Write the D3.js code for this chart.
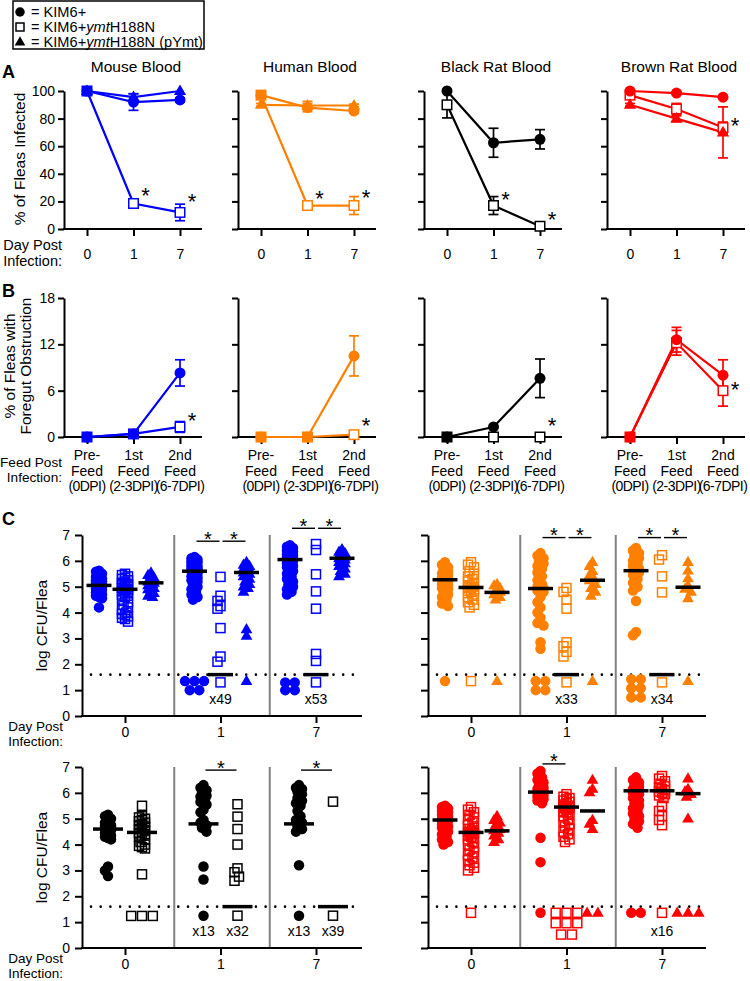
<!DOCTYPE html>
<html><head><meta charset="utf-8">
<script src="https://cdn.jsdelivr.net/npm/d3@7"></script>
<style>
body{margin:0;background:#fff}
svg{display:block}
text{font-family:"Liberation Sans",Arial,Helvetica,sans-serif;fill:#000}
</style>
</head><body>
<svg id="chart" width="750" height="981"></svg>
<script>
// ---------------- DATA ----------------
const bloods = ["Mouse Blood","Human Blood","Black Rat Blood","Brown Rat Blood"];
const bloodColors = ["#0000ff","#ff8000","#000000","#ff0000"];
const strains = ["KIM6+","KIM6+ymtH188N","KIM6+ymtH188N (pYmt)"];
const markerShapes = ["circle","square","triangle"];
const days = ["0","1","7"];
const feeds = [["Pre-","Feed","(0DPI)"],["1st","Feed","(2-3DPI)"],["2nd","Feed","(6-7DPI)"]];
const ticksA = [0,20,40,60,80,100];
const ticksB = [0,6,12,18];
const ticksC = [0,1,2,3,4,5,6,7];
const detectionLimit = 1.6;

// Panel A: % of fleas infected  [strain][day], errors = SEM
const infectedMouse = [[100,92,93.5],[100,18.5,12],[100,95.5,100]];
const infectedMouseErr = [[0,6,1.5],[0,2,6],[0,2.5,0]];
const infectedHuman = [[97,88,85.5],[97,17,17],[90,89.5,89.5]];
const infectedHumanErr = [[1,3,1.5],[2,1,6.5],[1,3,1]];
const infectedBlackRat = [[100,62.5,65],[90,17,2],null];
const infectedBlackRatErr = [[0,10.5,7],[9.5,6.5,0],null];
const infectedBrownRat = [[100,98.5,95.5],[97,87,73.5],[90,80,70]];
const infectedBrownRatErr = [[0,1,0.5],[2,4,4],[1,2,18.5]];
const starsA = [[[1,28],[2,23.5]],[[1,26],[2,26.5]],[[1,25],[2,11]],[[2,79]]];

// Panel B: % of fleas with foregut obstruction [strain][feed]
const obstructMouse = [[0,0.4,8.3],[0,0.4,1.3]];
const obstructMouseErr = [[0,0.2,1.7],[0,0.3,0.7]];
const obstructHuman = [[0,0,10.5],[0,0,0.3]];
const obstructHumanErr = [[0,0,2.6],[0,0,0.2]];
const obstructBlackRat = [[0,1.3,7.6],[0,0,0]];
const obstructBlackRatErr = [[0,0,2.5],[0,0,0]];
const obstructBrownRat = [[0,12.6,8.0],[0,12.2,6.0]];
const obstructBrownRatErr = [[0,1.6,2.0],[0,1.6,2.0]];
const starsB = [[[2,2.8]],[[2,2.2]],[[2,2.2]],[[2,6.85]]];

// Panel C: log CFU/flea  [day][strain] -> values
const cfuMouse = [
 [[5.62,5.58,5.5,5.45,5.4,5.38,5.33,5.3,5.25,5.22,5.2,5.15,5.12,5.1,5.08,5.05,5.05,5.03,5.0,4.98,4.95,4.92,4.9,4.88,4.85,4.8,4.78,4.75,4.7,4.65,4.6,4.55,4.2],
  [5.5,5.45,5.4,5.35,5.3,5.25,5.2,5.15,5.1,5.08,5.05,5.0,4.98,4.95,4.92,4.9,4.88,4.85,4.82,4.8,4.75,4.7,4.65,4.6,4.5,4.4,4.3,4.2,4.1,4.0,3.95,3.9,3.85,3.8,3.75,3.65],
  [5.55,5.45,5.35,5.3,5.25,5.2,5.18,5.15,5.12,5.1,5.05,5.0,4.95,4.9,4.85,4.75,4.65,4.6]],
 [[6.15,6.1,6.05,6.0,5.98,5.95,5.92,5.9,5.88,5.85,5.8,5.78,5.75,5.7,5.68,5.65,5.62,5.6,5.58,5.55,5.5,5.45,5.4,5.35,5.3,5.25,5.2,5.1,5.0,4.9,4.8,4.7,4.6,4.5,1.35,1.35,1.35,1.0,1.0],
  [5.38,4.65,4.45,4.25,4.15,3.4,2.3,2.1,1.3],
  [5.95,5.85,5.8,5.75,5.7,5.65,5.6,5.55,5.5,5.45,5.4,5.3,5.2,5.1,5.0,4.95,4.8,3.35,3.1,1.35]],
 [[6.6,6.55,6.5,6.45,6.4,6.35,6.3,6.25,6.2,6.18,6.15,6.12,6.1,6.08,6.05,6.03,6.0,5.98,5.95,5.9,5.85,5.8,5.75,5.7,5.6,5.5,5.4,5.3,5.2,5.1,5.0,4.9,4.8,4.7,1.3,1.3,1.0,1.0],
  [6.65,6.42,5.48,4.82,4.15,2.4,2.13,1.3],
  [6.45,6.35,6.3,6.25,6.2,6.15,6.12,6.1,6.05,6.0,5.95,5.9,5.85,5.8,5.7,5.6,5.5,5.4]]
];
const cfuMouseMedian = [[5.05,4.9,5.15],[5.6,1.6,5.55],[6.05,1.6,6.1]];
const cfuMouseAtLimit = [[0,0,0],[0,49,0],[0,53,0]];

const cfuHuman = [
 [[5.95,5.85,5.75,5.65,5.6,5.55,5.5,5.45,5.4,5.35,5.32,5.3,5.28,5.25,5.22,5.2,5.15,5.1,5.05,5.0,4.95,4.9,4.8,4.7,4.6,4.5,4.35,4.25,1.35],
  [5.95,5.85,5.75,5.6,5.5,5.4,5.3,5.2,5.1,5.05,5.0,4.98,4.95,4.9,4.85,4.8,4.7,4.6,4.5,4.4,4.3,4.2,1.35],
  [5.1,5.05,4.95,4.85,4.8,4.78,4.7,4.6,4.5,1.35]],
 [[6.3,6.2,6.1,6.0,5.9,5.8,5.7,5.55,5.4,5.25,5.1,5.0,4.95,4.9,4.85,4.8,4.6,4.4,4.2,4.0,3.8,3.6,3.5,2.85,2.6,1.35,1.35,1.0,1.0],
  [4.95,4.8,4.5,4.15,2.85,2.7,2.48,2.3,1.3],
  [5.95,5.8,5.6,5.45,5.3,5.25,5.1,4.95,4.8,4.65,1.35]],
 [[6.5,6.4,6.3,6.2,6.1,6.0,5.9,5.8,5.7,5.62,5.55,5.45,5.3,5.15,5.0,4.85,4.45,3.25,3.12,1.42,1.42,1.07,1.07,0.72,0.72],
  [6.22,6.05,5.4,4.78,1.3],
  [5.95,5.62,5.32,5.05,4.92,4.8,4.55,1.35]]
];
const cfuHumanMedian = [[5.27,4.97,4.78],[4.93,1.6,5.25],[5.62,1.6,4.98]];
const cfuHumanAtLimit = [[0,0,0],[0,33,0],[0,34,0]];

const cfuBlackRat = [
 [[5.15,5.1,5.0,4.95,4.9,4.85,4.8,4.75,4.72,4.7,4.68,4.65,4.62,4.6,4.58,4.55,4.52,4.5,4.45,4.4,4.35,4.3,4.25,4.2,3.15,3.0,2.78],
  [5.5,5.1,5.05,5.0,4.95,4.9,4.85,4.8,4.75,4.7,4.65,4.6,4.55,4.5,4.45,4.4,4.35,4.3,4.2,4.1,4.0,3.95,3.9,3.85,2.85,1.24,1.24,1.24],
  null],
 [[6.3,6.2,6.1,6.0,5.9,5.85,5.75,5.65,5.55,5.35,5.25,4.95,4.85,4.75,4.65,4.5,3.15,2.65,1.25],
  [5.56,5.08,4.6,4.0,3.08,2.93,2.76,2.6,1.25],
  null],
 [[6.3,6.2,6.15,6.05,5.95,5.8,5.7,5.6,5.5,5.3,5.1,4.95,4.85,4.7,4.6,4.5,3.2,1.25],
  [5.66,1.25],
  null]
];
const cfuBlackRatMedian = [[4.6,4.47,null],[4.8,1.6,null],[4.8,1.6,null]];
const cfuBlackRatAtLimit = [[0,0,0],[13,32,0],[13,39,0]];

const cfuBrownRat = [
 [[5.5,5.45,5.4,5.35,5.3,5.25,5.2,5.15,5.1,5.05,5.0,4.98,4.95,4.92,4.9,4.88,4.85,4.8,4.75,4.7,4.65,4.6,4.5,4.4,4.3,4.2,4.1,4.0],
  [5.45,5.35,5.25,5.15,5.05,4.95,4.85,4.75,4.65,4.6,4.55,4.5,4.48,4.45,4.42,4.4,4.35,4.3,4.25,4.2,4.1,4.0,3.9,3.8,3.7,3.6,3.5,3.4,3.3,3.2,3.1,3.0,1.36],
  [5.1,4.95,4.85,4.75,4.6,4.55,4.45,4.35,4.2,4.1]],
 [[6.85,6.75,6.6,6.5,6.4,6.3,6.2,6.15,6.1,6.05,6.0,5.95,5.9,5.85,5.8,5.75,5.7,5.6,4.26,3.32,1.36],
  [5.95,5.85,5.8,5.75,5.7,5.65,5.6,5.55,5.5,5.47,5.45,5.42,5.4,5.35,5.3,5.25,5.2,5.1,5.0,4.9,4.8,4.7,4.6,4.5,4.4,4.3,4.2,4.1,1.36,1.36,1.36,0.96,0.96,0.96,0.52,0.52],
  [6.5,6.15,6.02,4.95,4.8,4.6,1.36,1.36]],
 [[6.6,6.5,6.4,6.3,6.25,6.2,6.15,6.1,6.05,6.0,5.95,5.9,5.8,5.7,5.6,5.5,5.4,5.3,5.2,5.1,5.0,4.9,4.8,4.65,1.36,1.36],
  [6.65,6.55,6.45,6.35,6.25,6.2,6.15,6.1,6.05,6.0,5.95,5.9,5.8,5.5,5.3,5.1,4.95,4.75,1.36],
  [6.55,6.15,6.05,5.95,5.85,5.0,1.36,1.36,1.36]]
];
const cfuBrownRatMedian = [[4.95,4.47,4.53],[6.03,5.45,5.3],[6.08,6.08,5.97]];
const cfuBrownRatAtLimit = [[0,0,0],[0,0,0],[0,16,0]];

// significance brackets: [day index, from strain, to strain, level (log CFU)]
const sigMouse = [[1,0,1,6.76],[1,1,2,6.76],[2,0,1,7.26],[2,1,2,7.26]];
const sigHuman = [[1,0,1,6.9],[1,1,2,6.9],[2,0,1,6.9],[2,1,2,6.9]];
const sigBlackRat = [[1,0,1,6.88],[2,0,1,6.88]];
const sigBrownRat = [[1,0,1,7.12]];

// ---------------- DRAWING ----------------
const svg = d3.select("#chart");
const AX = 2;
const panelX = [64, 238, 424, 607];

function drawMarker(g, shape, x, y, size, color, openFill) {
  if (shape === "circle") {
    g.append("circle").attr("cx", x).attr("cy", y).attr("r", size / 2).attr("fill", color);
  } else if (shape === "square") {
    const s = size - 1.5;
    g.append("rect").attr("x", x - s / 2).attr("y", y - s / 2).attr("width", s).attr("height", s)
      .attr("fill", openFill).attr("stroke", color).attr("stroke-width", 1.5);
  } else {
    const side = size * 1.12;
    const area = side * side * Math.sqrt(3) / 4;
    g.append("path").attr("d", d3.symbol().type(d3.symbolTriangle).size(area)())
      .attr("transform", `translate(${x},${y + 0.5})`).attr("fill", color);
  }
}
function star(g, x, yc, fs) {
  fs = fs || 22;
  g.append("text").attr("x", x).attr("y", yc + 0.58 * fs).attr("text-anchor", "middle")
    .attr("font-size", fs).text("*");
}
function styleAxis(g, fs) {
  g.attr("font-size", fs).attr("font-family", '"Liberation Sans",Arial,sans-serif');
  g.selectAll("line").attr("stroke-width", AX);
  g.selectAll("path.domain").attr("stroke-width", AX);
}

// Legend
const leg = svg.append("g");
leg.append("rect").attr("x", 13).attr("y", 1).attr("width", 191).attr("height", 48)
  .attr("fill", "none").attr("stroke", "#000").attr("stroke-width", 1.5);
const legY = [12, 27, 42];
strains.forEach((s, i) => {
  drawMarker(leg, markerShapes[i], 20, legY[i], 9.5, "#000", "#fff");
  const t = leg.append("text").attr("x", 31).attr("y", legY[i] + 5.3).attr("font-size", 14.6);
  t.append("tspan").text("= ");
  const m = s.match(/^(KIM6\+)(ymt)?(.*)$/);
  t.append("tspan").text(m[1]);
  if (m[2]) t.append("tspan").attr("font-style", "italic").text(m[2]);
  if (m[3]) t.append("tspan").text(m[3]);
});

[["A", 78], ["B", 297], ["C", 525]].forEach(([l, y]) => {
  svg.append("text").attr("x", 2).attr("y", y).attr("font-size", 18).attr("font-weight", "bold").text(l);
});

// ---------- Panel A ----------
const infectedAll = [infectedMouse, infectedHuman, infectedBlackRat, infectedBrownRat];
const infectedErrAll = [infectedMouseErr, infectedHumanErr, infectedBlackRatErr, infectedBrownRatErr];
const yA = d3.scaleLinear().domain([0, 100]).range([229, 91]);
const drawOrder = [1, 2, 0];

function linePanel(gi, yScale, ticks, vals, errs, stars, showY, xLabels) {
  const x0 = panelX[gi], col = bloodColors[gi];
  const g = svg.append("g");
  const x = d3.scalePoint().domain(days).range([x0 + 23, x0 + 116]);
  const ya = g.append("g").attr("transform", `translate(${x0},0)`)
    .call(d3.axisLeft(yScale).tickValues(ticks).tickSize(6).tickSizeOuter(0).tickPadding(3)
      .tickFormat(showY ? d3.format("d") : () => ""));
  styleAxis(ya, 14);
  const [yb] = yScale.range();
  g.append("line").attr("x1", x0 - 1).attr("x2", x0 + 138).attr("y1", yb).attr("y2", yb)
    .attr("stroke", "#000").attr("stroke-width", AX);
  const xa = g.append("g").attr("transform", `translate(0,${yb})`)
    .call(d3.axisBottom(x).tickSize(7).tickSizeOuter(0).tickPadding(13)
      .tickFormat(xLabels ? (d => d) : () => ""));
  xa.select("path.domain").remove();
  styleAxis(xa, 14);
  const lineGen = d3.line().x((d, i) => x(days[i])).y(d => yScale(d));
  drawOrder.forEach(si => {
    const v = vals[si]; if (!v) return;
    g.append("path").attr("d", lineGen(v)).attr("fill", "none").attr("stroke", col).attr("stroke-width", 2.2);
  });
  drawOrder.forEach(si => {
    const v = vals[si]; if (!v) return;
    const e = errs[si];
    v.forEach((d, i) => {
      if (!e[i]) return;
      const cx = x(days[i]);
      const lo = yScale(Math.max(0, d - e[i])), hi = yScale(d + e[i]);
      g.append("line").attr("x1", cx).attr("x2", cx).attr("y1", lo).attr("y2", hi).attr("stroke", col).attr("stroke-width", 1.7);
      [lo, hi].forEach(yy => g.append("line").attr("x1", cx - 5).attr("x2", cx + 5).attr("y1", yy).attr("y2", yy).attr("stroke", col).attr("stroke-width", 1.7));
    });
  });
  drawOrder.forEach(si => {
    const v = vals[si]; if (!v) return;
    v.forEach((d, i) => drawMarker(g, markerShapes[si], x(days[i]), yScale(d), 11, col, "#fff"));
  });
  stars.forEach(([di, v]) => star(g, x(days[di]) + 12, yScale(v)));
  return {g, x};
}

infectedAll.forEach((vals, gi) => {
  const {g} = linePanel(gi, yA, ticksA, vals, infectedErrAll[gi], starsA[gi], gi === 0, true);
  g.append("text").attr("x", panelX[gi] + 72).attr("y", 72).attr("text-anchor", "middle")
    .attr("font-size", 15.5).text(bloods[gi]);
});
svg.append("text").attr("transform", "translate(25,159) rotate(-90)").attr("text-anchor", "middle")
  .attr("font-size", 15.5).text("% of Fleas Infected");
[["Day Post", 250], ["Infection:", 266]].forEach(([t, y]) =>
  svg.append("text").attr("x", 62).attr("y", y).attr("text-anchor", "end").attr("font-size", 14.5).text(t));

// ---------- Panel B ----------
const obstructAll = [obstructMouse, obstructHuman, obstructBlackRat, obstructBrownRat];
const obstructErrAll = [obstructMouseErr, obstructHumanErr, obstructBlackRatErr, obstructBrownRatErr];
const yB = d3.scaleLinear().domain([0, 18]).range([437, 298]);
obstructAll.forEach((vals, gi) => {
  const {g, x} = linePanel(gi, yB, ticksB, vals, obstructErrAll[gi], starsB[gi], gi === 0, false);
  days.forEach((d, i) => {
    feeds[i].forEach((ln, k) => {
      g.append("text").attr("x", x(d)).attr("y", 460 + k * 15.5).attr("text-anchor", "middle")
        .attr("font-size", 14).attr("letter-spacing", k === 2 ? -0.55 : 0).text(ln);
    });
  });
});
svg.append("text").attr("transform", "translate(15,366) rotate(-90)").attr("text-anchor", "middle")
  .attr("font-size", 15.5).text("% of Fleas with");
svg.append("text").attr("transform", "translate(31,366) rotate(-90)").attr("text-anchor", "middle")
  .attr("font-size", 15.5).text("Foregut Obstruction");
[["Feed Post", 467], ["Infection:", 482]].forEach(([t, y]) =>
  svg.append("text").attr("x", 62).attr("y", y).attr("text-anchor", "end").attr("font-size", 13.6).text(t));

// ---------- Panel C ----------
const cPanels = [
  {data: cfuMouse, med: cfuMouseMedian, lim: cfuMouseAtLimit, sig: sigMouse, ci: 0, x0: 82, x1: 362, ytop: 535, ybot: 716, showY: true},
  {data: cfuHuman, med: cfuHumanMedian, lim: cfuHumanAtLimit, sig: sigHuman, ci: 1, x0: 428, x1: 706, ytop: 535, ybot: 716, showY: false},
  {data: cfuBlackRat, med: cfuBlackRatMedian, lim: cfuBlackRatAtLimit, sig: sigBlackRat, ci: 2, x0: 82, x1: 362, ytop: 767, ybot: 948, showY: true},
  {data: cfuBrownRat, med: cfuBrownRatMedian, lim: cfuBrownRatAtLimit, sig: sigBrownRat, ci: 3, x0: 428, x1: 706, ytop: 767, ybot: 948, showY: false}
];

function swarm(vals, y, shape) {
  const pts = vals.map(v => ({v, y: y(v), dx: 0}));
  const above = pts.filter(p => p.v >= detectionLimit).sort((a, b) => a.y - b.y);
  const below = pts.filter(p => p.v < detectionLimit);
  const step = 1.5, maxOff = 4, minDist = 5.5;
  const cands = [0];
  for (let k = 1; k * step <= maxOff; k++) cands.push(-k * step, k * step);
  const placed = [];
  above.forEach(p => {
    let best = 0, bestD = -1;
    for (const c of cands) {
      let md = Infinity;
      for (const q of placed) { const d = Math.hypot(q.dx - c, q.y - p.y); if (d < md) md = d; }
      if (md >= minDist) { best = c; bestD = md; break; }
      if (md > bestD) { bestD = md; best = c; }
    }
    p.dx = best; placed.push(p);
  });
  const rows = d3.group(below, p => p.v);
  const sp = shape === "circle" ? 9.5 : 10.8;
  rows.forEach(r => r.forEach((p, i) => { p.dx = (i - (r.length - 1) / 2) * sp; }));
  return pts;
}

cPanels.forEach(P => {
  const g = svg.append("g");
  const col = bloodColors[P.ci];
  const y = d3.scaleLinear().domain([0, 7]).range([P.ybot, P.ytop]);
  const xd = d3.scalePoint().domain(days).range([P.x0 + 43, P.x0 + 234]);
  const nStr = P.data[0][2] ? 3 : 2;
  const xs = d3.scalePoint().domain(d3.range(nStr)).range(nStr === 3 ? [-26, 26] : [-17, 17]);
  const medW = nStr === 3 ? 25 : 30;

  [0, 1].forEach(i => {
    const sx = (xd(days[i]) + xd(days[i + 1])) / 2 + 1.5;
    g.append("line").attr("x1", sx).attr("x2", sx).attr("y1", y(7)).attr("y2", y(0))
      .attr("stroke", "#808080").attr("stroke-width", 2);
  });
  const ya = g.append("g").attr("transform", `translate(${P.x0},0)`)
    .call(d3.axisLeft(y).tickValues(ticksC).tickSize(7).tickSizeOuter(0).tickPadding(5)
      .tickFormat(P.showY ? d3.format("d") : () => ""));
  styleAxis(ya, 14);
  g.append("line").attr("x1", P.x0 - 1).attr("x2", P.x1).attr("y1", y(0)).attr("y2", y(0))
    .attr("stroke", "#000").attr("stroke-width", AX);
  const xa = g.append("g").attr("transform", `translate(0,${y(0)})`)
    .call(d3.axisBottom(xd).tickSize(7).tickSizeOuter(0).tickPadding(4));
  xa.select("path.domain").remove();
  styleAxis(xa, 14);

  g.append("line").attr("x1", P.x0 + 9).attr("x2", P.x1 - 2).attr("y1", y(detectionLimit)).attr("y2", y(detectionLimit))
    .attr("stroke", "#000").attr("stroke-width", 2.6).attr("stroke-linecap", "round")
    .attr("stroke-dasharray", "0,9.7");

  days.forEach((d, di) => {
    for (let si = 0; si < nStr; si++) {
      const vals = P.data[di][si]; if (!vals) continue;
      const cx = xd(d) + xs(si);
      swarm(vals, y, markerShapes[si]).forEach(p =>
        drawMarker(g, markerShapes[si], cx + p.dx, p.y, 10.5, col, "none"));
    }
  });
  days.forEach((d, di) => {
    for (let si = 0; si < nStr; si++) {
      const m = P.med[di][si]; if (m == null) continue;
      const cx = xd(d) + xs(si);
      g.append("line").attr("x1", cx - medW / 2).attr("x2", cx + medW / 2).attr("y1", y(m)).attr("y2", y(m))
        .attr("stroke", "#000").attr("stroke-width", 3.5);
      const n = P.lim[di][si];
      if (n) g.append("text").attr("x", cx).attr("y", y(0.5) + 1).attr("text-anchor", "middle")
        .attr("font-size", 14).text("x" + n);
    }
  });
  P.sig.forEach(([di, a, b, lvl]) => {
    const xa1 = xd(days[di]) + xs(a) + 2, xb1 = xd(days[di]) + xs(b) - 1;
    g.append("line").attr("x1", xa1).attr("x2", xb1).attr("y1", y(lvl)).attr("y2", y(lvl))
      .attr("stroke", "#000").attr("stroke-width", 1.4);
    star(g, (xa1 + xb1) / 2, y(lvl) - 7, 20);
  });

  if (P.showY) {
    g.append("text").attr("transform", `translate(47,${(P.ytop + P.ybot) / 2}) rotate(-90)`)
      .attr("text-anchor", "middle").attr("font-size", 15.5).text("log CFU/Flea");
    [["Day Post", P.ybot + 14.5], ["Infection:", P.ybot + 30]].forEach(([t, yy]) =>
      g.append("text").attr("x", 63).attr("y", yy).attr("text-anchor", "end").attr("font-size", 13.5).text(t));
  }
});
</script>
</body></html>
